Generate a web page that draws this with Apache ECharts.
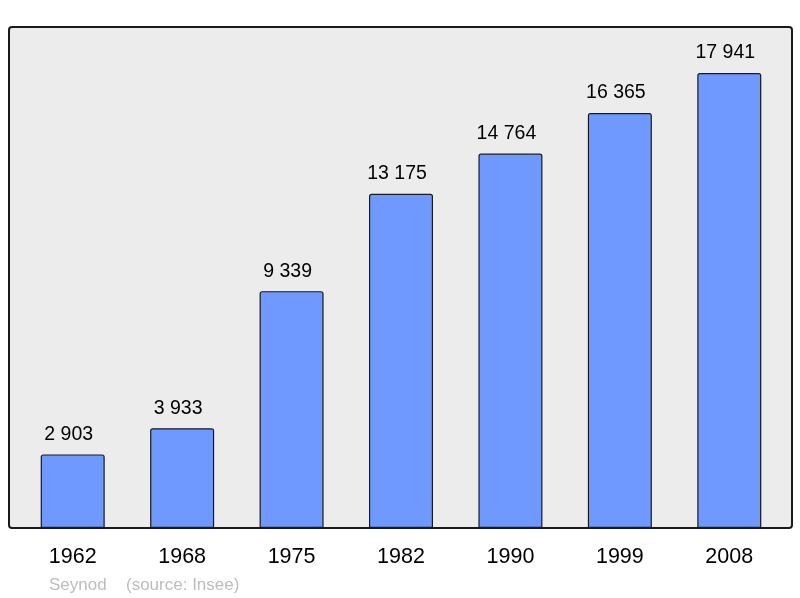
<!DOCTYPE html>
<html>
<head>
<meta charset="utf-8">
<script src="https://cdn.jsdelivr.net/npm/echarts@6/dist/echarts.min.js"></script>
<style>
  html, body { margin: 0; padding: 0; background: #fff; }
  #main { width: 800px; height: 598px; }
</style>
</head>
<body>
<div id="main"></div>
<script>
// population by census year
var years = ['1962', '1968', '1975', '1982', '1990', '1999', '2008'];
var population = [2903, 3933, 9339, 13175, 14764, 16365, 17941];
var town = 'Seynod';
var source = '(source: Insee)';

function fmt(v){
    return String(v).replace(/\B(?=(\d{3})+(?!\d))/g, ' ');
}

function drawChart(){
    var myChart = echarts.init(document.getElementById('main'));

    var option = {
        animation: false,
        textStyle: { fontFamily: 'Liberation Sans, Arial, sans-serif' },
        graphic: [
            {
                type: 'rect',
                z: -10,
                shape: { x: 9, y: 27, width: 783, height: 501, r: 3 },
                style: { fill: '#ececec', stroke: '#1a1a1a', lineWidth: 2 }
            },
            {
                type: 'text',
                left: 49, top: 577,
                style: { text: town, fill: '#bdbdbd', font: '17px Liberation Sans, Arial, sans-serif' }
            },
            {
                type: 'text',
                left: 126, top: 577,
                style: { text: source, fill: '#bdbdbd', font: '17px Liberation Sans, Arial, sans-serif' }
            }
        ],
        grid: { left: 18, right: 16, top: 27, bottom: 70, containLabel: false },
        xAxis: {
            type: 'category',
            data: years,
            axisLine: { show: false },
            axisTick: { show: false },
            axisLabel: { color: '#000', fontSize: 21.5, margin: 18 }
        },
        yAxis: {
            type: 'value',
            min: 0,
            max: 19755,
            show: false,
            splitLine: { show: false }
        },
        series: [
            {
                type: 'bar',
                data: population,
                barWidth: 64,
                itemStyle: {
                    color: '#7099ff',
                    borderColor: '#1a1a1a',
                    borderWidth: 1.2,
                    borderRadius: [2, 2, 0, 0]
                },
                label: {
                    show: true,
                    position: 'top',
                    distance: 10,
                    offset: [-4, 0],
                    color: '#000',
                    fontSize: 19.5,
                    formatter: function(p){ return fmt(p.value); }
                }
            }
        ]
    };

    myChart.setOption(option);
}

drawChart();
</script>
</body>
</html>
